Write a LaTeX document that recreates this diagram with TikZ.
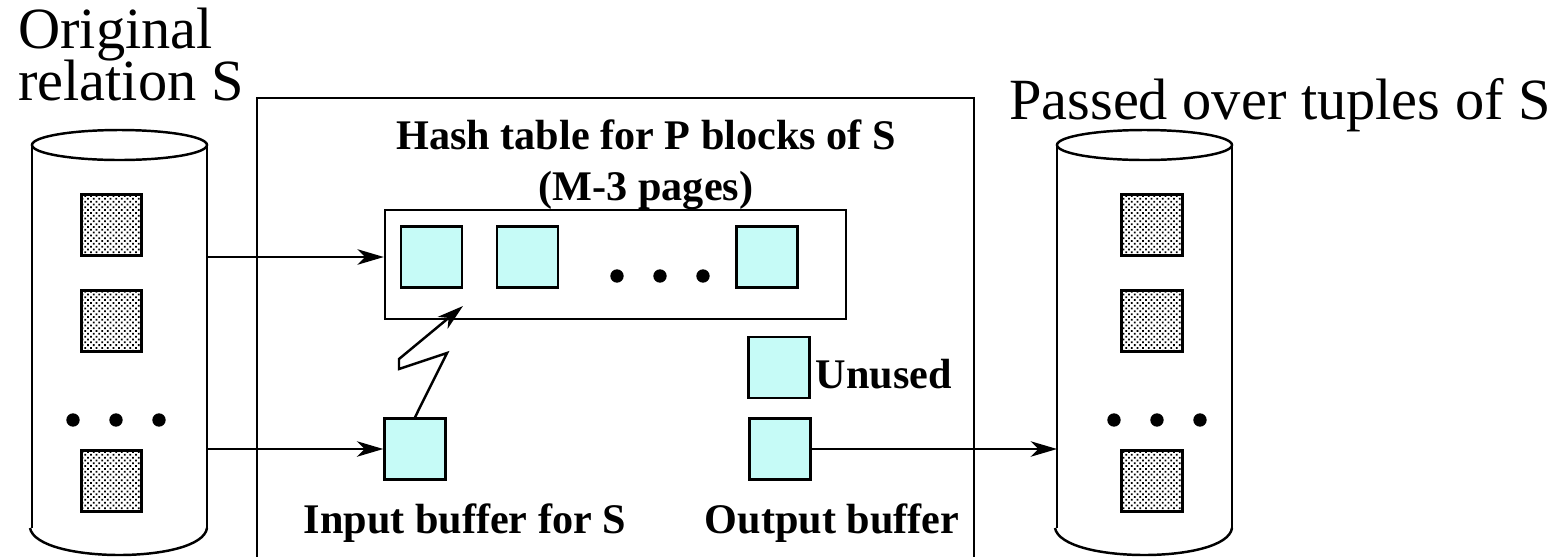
\documentclass[tikz,border=0pt]{standalone}
\usepackage{fontspec}
\setmainfont{Liberation Serif}
\usetikzlibrary{arrows.meta,patterns}
\definecolor{bufcyan}{RGB}{198,251,247}
\pgfdeclarepatternformonly{blockdots}{\pgfqpoint{-1pt}{-1pt}}{\pgfqpoint{3pt}{3pt}}{\pgfqpoint{1.6pt}{1.6pt}}{
    \pgfpathrectangle{\pgfqpoint{0pt}{0pt}}{\pgfqpoint{0.5pt}{0.5pt}}
    \pgfpathrectangle{\pgfqpoint{0.8pt}{0.8pt}}{\pgfqpoint{0.5pt}{0.5pt}}
    \pgfusepath{fill}
}
\tikzset{
    buffer/.style={draw,line width=0.75pt,fill=bufcyan,minimum size=17.3pt,inner sep=0pt},
    block/.style={draw,line width=0.85pt,pattern=blockdots,minimum size=17.3pt,inner sep=0pt},
    bigdot/.style={circle,fill,minimum size=3.8pt,inner sep=0pt},
    biglabel/.style={font=\fontsize{16.6}{18}\selectfont,anchor=base west,inner sep=0pt},
    boldlabel/.style={font=\fontsize{12}{12}\selectfont\bfseries,anchor=base,inner sep=0pt},
}
\begin{document}
\begin{tikzpicture}[x=0.01cm,y=-0.01cm,line width=0.7pt,>={Stealth[length=7.5pt,width=4.4pt,inset=2.2pt]}]
    \useasboundingbox (0,0) rectangle (1565,557);

    % the two disks
    \foreach \x/\bx/\dx/\name in {32/111.5/73/src,1057/1152/1114/dst} {
        \draw (\x,528) -- (\x,145);
        \draw (\x+175,145) -- (\x+175,528);
        \draw (\x+87.5,145) ellipse [x radius=87.5,y radius=15];
        \draw (\x-2,528) .. controls (\x+5,564) and (\x+170,564) .. (\x+175,528);
        \node[block] (\name1) at (\bx,225) {};
        \node[block] (\name2) at (\bx,321) {};
        \node[block] (\name3) at (\bx,481) {};
        \node[bigdot] (\name d1) at (\dx,420) {};
        \node[bigdot] (\name d2) at (\dx+43,420) {};
        \node[bigdot] (\name d3) at (\dx+86,420) {};
    }

    % memory
    \draw (257,557) -- (257,98) -- (974,98) -- (974,557);
    \node[draw,line width=0.75pt,minimum width=131pt,minimum height=31pt,inner sep=0pt] (hash) at (615.5,264.5) {};
    \node[buffer] (page1) at (431.5,257) {};
    \node[buffer] (page2) at (527.5,257) {};
    \node[buffer] (page3) at (767,257) {};
    \node[bigdot] (hd1) at (617,276) {};
    \node[bigdot] (hd2) at (660,276) {};
    \node[bigdot] (hd3) at (703,276) {};
    \node[buffer] (input) at (415,449) {};
    \node[buffer] (unused) at (779,367.5) {};
    \node[buffer] (output) at (780,449) {};

    % arrows
    \coordinate (srcout1) at (207,257);
    \coordinate (srcout2) at (207,449);
    \coordinate (dstin) at (1057,449);
    \coordinate (zig1) at (447,353);
    \coordinate (zig2) at (399,369);
    \coordinate (zig3) at (399,359);
    \coordinate (zigend) at (463,306);
    \draw[->] (srcout1) -- (hash.west |- srcout1);
    \draw[->] (srcout2) -- (input.west);
    \draw[->] (output.east) -- (dstin);
    \draw[->] (input.north) -- (zig1) -- (zig2) -- (zig3) -- (zigend);

    % labels
    \node[biglabel] (orig) at (17,48) {Original};
    \node[biglabel] (rel) at (17,100) {relation S};
    \node[biglabel] (passed) at (1008,119) {Passed over tuples of S};
    \node[boldlabel] (title) at (646,149) {Hash table for P blocks of S};
    \node[boldlabel] (pages) at (646,200) {(M-3 pages)};
    \node[boldlabel] (unusedl) at (884,388) {Unused};
    \node[boldlabel] (inputl) at (465,533) {Input buffer for S};
    \node[boldlabel] (outputl) at (832,533) {Output buffer};
\end{tikzpicture}
\end{document}
